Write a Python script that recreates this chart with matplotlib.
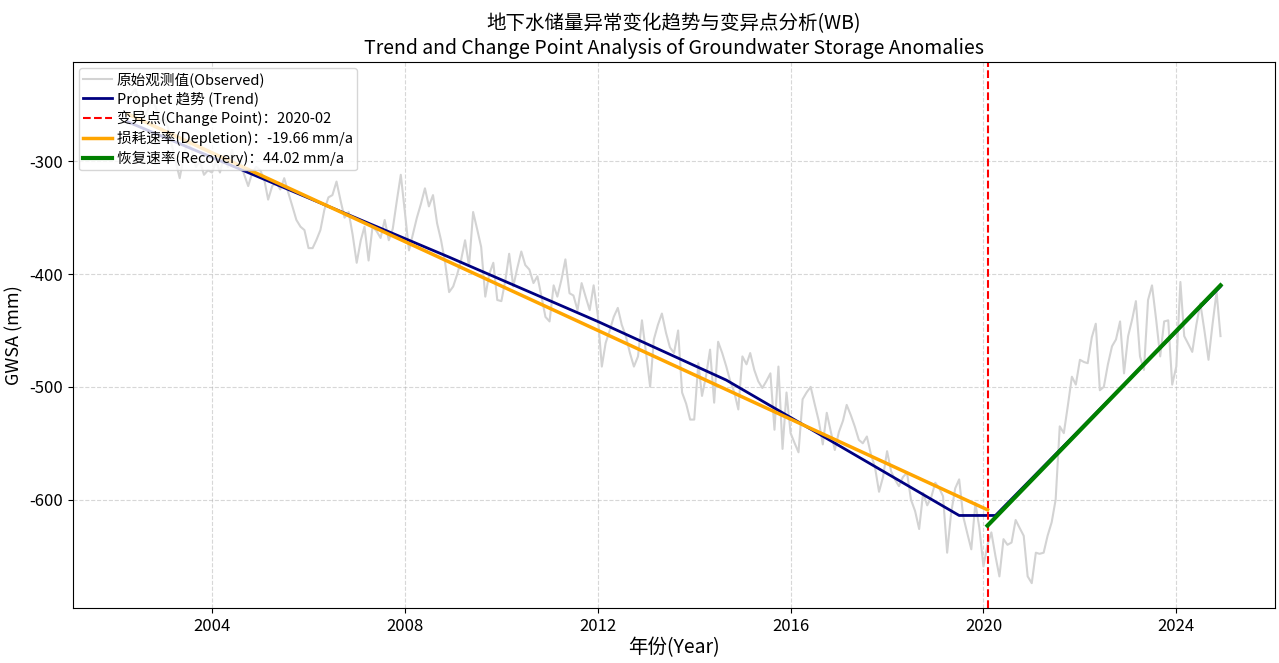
import numpy as np
import pandas as pd
import matplotlib
matplotlib.use("Agg")
import matplotlib.pyplot as plt

plt.rcParams['font.family'] = ['Noto Sans CJK SC', 'DejaVu Sans']
plt.rcParams['axes.unicode_minus'] = False

# observed GWSA (mm), monthly 2002-04 .. 2024-12
obs_2002 = [-248, -240, -236, -250, -262, -255, -245, -252, -265]
obs_2003 = [-262, -270, -285, -300, -315, -295, -282, -290, -305, -300, -312, -308]
obs_2004 = [-310, -300, -310, -295, -305, -290, -305, -300, -312, -322, -310, -305]
obs_2005 = [-308, -317, -334, -322, -319, -325, -315, -328, -340, -352, -358, -361]
obs_2006 = [-377, -377, -370, -361, -343, -332, -330, -318, -335, -350, -345, -365]
obs_2007 = [-390, -370, -358, -388, -358, -362, -368, -352, -370, -360, -335, -312]
obs_2008 = [-345, -379, -365, -350, -338, -324, -340, -330, -355, -370, -390, -416]
obs_2009 = [-411, -400, -388, -370, -393, -345, -360, -376, -420, -400, -390, -423]
obs_2010 = [-424, -405, -382, -411, -395, -380, -392, -396, -408, -402, -420, -438]
obs_2011 = [-442, -410, -420, -405, -387, -417, -419, -432, -408, -420, -432, -410]
obs_2012 = [-436, -482, -461, -450, -438, -430, -445, -455, -470, -482, -473, -441]
obs_2013 = [-470, -500, -458, -445, -435, -452, -465, -470, -450, -505, -515, -529]
obs_2014 = [-529, -479, -508, -490, -467, -514, -460, -470, -482, -495, -505, -520]
obs_2015 = [-473, -480, -470, -485, -495, -501, -495, -488, -538, -482, -555, -505]
obs_2016 = [-541, -550, -558, -511, -505, -500, -515, -530, -551, -523, -540, -556]
obs_2017 = [-540, -530, -516, -525, -535, -547, -550, -544, -560, -571, -593, -580]
obs_2018 = [-557, -575, -582, -588, -580, -576, -600, -610, -626, -594, -605, -598]
obs_2019 = [-585, -590, -597, -647, -612, -590, -582, -615, -630, -644, -603, -625]
obs_2020 = [-659, -640, -629, -650, -668, -635, -640, -638, -618, -625, -632, -668]
obs_2021 = [-674, -647, -648, -647, -632, -620, -600, -535, -541, -517, -491, -498]
obs_2022 = [-476, -478, -479, -456, -444, -503, -500, -480, -464, -458, -442, -488]
obs_2023 = [-455, -440, -424, -473, -485, -423, -410, -440, -473, -442, -441, -498]
obs_2024 = [-482, -407, -455, -462, -469, -445, -426, -450, -476, -445, -416, -455]

observed = (obs_2002 + obs_2003 + obs_2004 + obs_2005 + obs_2006 + obs_2007 + obs_2008
            + obs_2009 + obs_2010 + obs_2011 + obs_2012 + obs_2013 + obs_2014 + obs_2015
            + obs_2016 + obs_2017 + obs_2018 + obs_2019 + obs_2020 + obs_2021 + obs_2022
            + obs_2023 + obs_2024)
dates = pd.date_range('2002-04-01', periods=len(observed), freq='MS')

# Prophet trend (piecewise linear knots)
trend_dates = ['2002-04-01', '2008-12-01', '2012-01-01', '2014-09-01', '2017-03-01',
               '2019-07-01', '2020-04-01', '2024-12-01']
trend_vals = [-265, -385, -442, -494, -556, -614, -614, -411]

change_point = '2020-02-01'

depl_dates = ['2002-04-01', '2020-02-01']
depl_vals = [-258, -609]
depl_rate = -19.66

recov_dates = ['2020-02-01', '2024-12-01']
recov_vals = [-623, -410]
recov_rate = 44.02

fig = plt.figure(figsize=(12.79, 6.63), dpi=100)
ax = fig.add_axes([0.057, 0.083, 0.940, 0.8235])

ax.plot(dates, observed, color='lightgray', lw=1.5, label='原始观测值(Observed)')
ax.plot(pd.to_datetime(trend_dates), trend_vals, color='navy', lw=2, label='Prophet 趋势 (Trend)')
ax.axvline(pd.Timestamp(change_point), color='red', ls='--', lw=1.5,
           label=f'变异点(Change Point)：{change_point[:7]}')
ax.plot(pd.to_datetime(depl_dates), depl_vals, color='orange', lw=2.5,
        label=f'损耗速率(Depletion)：{depl_rate:.2f} mm/a')
ax.plot(pd.to_datetime(recov_dates), recov_vals, color='green', lw=3,
        label=f'恢复速率(Recovery)：{recov_rate:.2f} mm/a')

ax.grid(True, ls='--', alpha=0.5)
ax.set_ylim(-696, -212)
ax.set_xlabel('年份(Year)', fontsize=14, labelpad=2)
ax.set_ylabel('GWSA (mm)', fontsize=13)
ax.tick_params(labelsize=12)
ax.set_title('地下水储量异常变化趋势与变异点分析(WB)\nTrend and Change Point Analysis of Groundwater Storage Anomalies',
             fontsize=14, pad=6)
ax.legend(loc='upper left', fontsize=10.5, handlelength=2.0, borderaxespad=0.4,
          labelspacing=0.3, handletextpad=0.3, borderpad=0.3)

fig.savefig('out.png', dpi=100)
